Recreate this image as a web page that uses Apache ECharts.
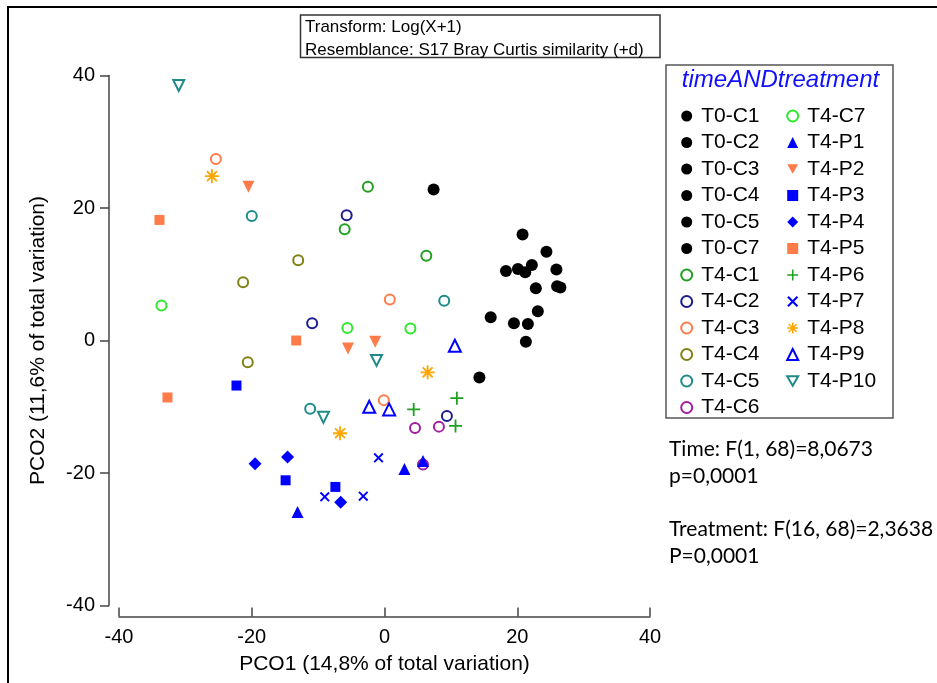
<!DOCTYPE html>
<html>
<head>
<meta charset="utf-8">
<script src="https://cdn.jsdelivr.net/npm/echarts@6/dist/echarts.min.js"></script>
<style>html,body{margin:0;padding:0;background:#fff}#c{width:937px;height:683px}</style>
</head>
<body>
<div id="c"></div>
<script>
// ---- data ----
const groupNames = ['T0-C1','T0-C2','T0-C3','T0-C4','T0-C5','T0-C7','T4-C1','T4-C2','T4-C3','T4-C4','T4-C5','T4-C6',
                    'T4-C7','T4-P1','T4-P2','T4-P3','T4-P4','T4-P5','T4-P6','T4-P7','T4-P8','T4-P9','T4-P10'];
const T0_C1 = [[7.4,22.8],[22.8,7.9],[14.3,-5.6]];
const T0_C2 = [[20.8,16.0],[26.0,8.2],[16.0,3.5]];
const T0_C3 = [[24.4,13.4],[26.5,8.0],[19.5,2.6]];
const T0_C4 = [[18.3,10.5],[23.1,4.4],[21.6,2.5]];
const T0_C5 = [[20.1,10.8],[22.2,11.4],[21.3,-0.2]];
const T0_C7 = [[21.2,10.3],[25.9,10.7]];
const T4_C1 = [[-6.0,16.8],[-2.5,23.2],[6.3,12.8]];
const T4_C2 = [[-5.7,18.9],[-10.9,2.6],[9.4,-11.4]];
const T4_C3 = [[-25.4,27.4],[0.8,6.2],[-0.1,-9.0]];
const T4_C4 = [[-13.0,12.1],[-21.3,8.8],[-20.6,-3.3]];
const T4_C5 = [[-20.0,18.8],[9.0,6.0],[-11.2,-10.3]];
const T4_C6 = [[4.6,-13.2],[8.2,-13.0],[5.8,-18.7]];
const T4_C7 = [[-33.6,5.3],[-5.6,1.9],[3.9,1.8]];
const T4_P1 = [[-13.1,-25.9],[3.0,-19.4],[5.8,-18.2]];
const T4_P2 = [[-20.5,23.2],[-5.5,-1.2],[-1.4,-0.2]];
const T4_P3 = [[-22.3,-6.8],[-14.9,-21.1],[-7.4,-22.1]];
const T4_P4 = [[-14.6,-17.6],[-19.5,-18.6],[-6.6,-24.4]];
const T4_P5 = [[-33.9,18.2],[-13.3,0.0],[-32.7,-8.6]];
const T4_P6 = [[10.9,-8.7],[4.4,-10.4],[10.7,-12.9]];
const T4_P7 = [[-9.0,-23.6],[-0.9,-17.7],[-3.2,-23.5]];
const T4_P8 = [[-26.0,24.8],[-6.7,-14.0],[6.5,-4.8]];
const T4_P9 = [[10.6,-0.8],[-2.3,-10.0],[0.7,-10.4]];
const T4_P10 = [[-31.0,38.5],[-9.2,-11.6],[-1.2,-3.0]];
const groupData = [T0_C1,T0_C2,T0_C3,T0_C4,T0_C5,T0_C7,T4_C1,T4_C2,T4_C3,T4_C4,T4_C5,T4_C6,
                   T4_C7,T4_P1,T4_P2,T4_P3,T4_P4,T4_P5,T4_P6,T4_P7,T4_P8,T4_P9,T4_P10];
const axisTicks = [-40,-20,0,20,40];
const xName = 'PCO1 (14,8% of total variation)';
const yName = 'PCO2 (11,6% of total variation)';
const infoLines = ['Transform: Log(X+1)','Resemblance: S17 Bray Curtis similarity (+d)'];
const statLines = ['Time: F(1, 68)=8,0673','p=0,0001','','Treatment: F(16, 68)=2,3638','P=0,0001'];
const legendTitle = 'timeANDtreatment';

// ---- styles ----
function barsPath(angles, w){
  const L=10;let p='';
  angles.forEach(a=>{
    const r=a*Math.PI/180,c=Math.cos(r),s=Math.sin(r);
    const pts=[[-L,-w],[L,-w],[L,w],[-L,w]].map(([x,y])=>[(x*c-y*s).toFixed(3),(x*s+y*c).toFixed(3)]);
    p+='M'+pts[0].join(' ')+'L'+pts[1].join(' ')+'L'+pts[2].join(' ')+'L'+pts[3].join(' ')+'Z';
  });
  return 'path://'+p;
}
const plusPath = barsPath([0,90],1.4);
const crossPath = barsPath([45,135],1.6);
const starPath = barsPath([0,45,90,135],1.3);
const downTri = 'path://M-10,-8.66L10,-8.66L0,8.66Z';
const BLK='#000000', GRN='#1fa01f', NAVY='#1c1c8f', CORAL='#ff7b4a', OLIVE='#808012', TEAL='#1f8a8a',
      PURP='#a01ea0', LIME='#2ee82e', BLUE='#0000ff', ORNG='#ffa500';
const styles = [
  {c:BLK,s:'circle',z:12},{c:BLK,s:'circle',z:12},{c:BLK,s:'circle',z:12},{c:BLK,s:'circle',z:12},{c:BLK,s:'circle',z:12},{c:BLK,s:'circle',z:12},
  {c:GRN,s:'emptyCircle',z:10},{c:NAVY,s:'emptyCircle',z:10},{c:CORAL,s:'emptyCircle',z:10},{c:OLIVE,s:'emptyCircle',z:10},
  {c:TEAL,s:'emptyCircle',z:10},{c:PURP,s:'emptyCircle',z:10},{c:LIME,s:'emptyCircle',z:10},
  {c:BLUE,s:'triangle',z:12},{c:CORAL,s:downTri,z:12},{c:BLUE,s:'rect',z:10},{c:BLUE,s:'diamond',z:13},
  {c:CORAL,s:'rect',z:10},{c:GRN,s:plusPath,z:13},{c:BLUE,s:crossPath,z:10},{c:ORNG,s:starPath,z:14},
  {c:BLUE,s:'emptyTriangle',z:12},{c:TEAL,s:downTri,z:11,hollow:true}
];
const FONT='"Liberation Sans", Arial, sans-serif';

const series = groupNames.map((n,i)=>{
  const st=styles[i];
  const isEmpty = st.s.indexOf('empty')===0;
  return {
    name:n, type:'scatter', data:groupData[i],
    symbol:st.s, symbolSize:st.z,
    itemStyle: st.hollow ? {color:'#fff', borderColor:st.c, borderWidth:2, opacity:1}
                         : {color:st.c, borderColor:st.c, borderWidth:isEmpty?2:0, opacity:1},
    emphasis:{disabled:true}
  };
});

const legendBase = {orient:'vertical', itemWidth:11, itemHeight:11, itemGap:5.5, selectedMode:false,
  textStyle:{fontFamily:FONT,fontSize:21,color:'#000',padding:[0,0,0,4]}};

const chart = echarts.init(document.getElementById('c'), null, {renderer:'canvas'});
chart.setOption({
  backgroundColor:'#fff',
  animation:false,
  grid:{left:119, top:75.5, width:531, height:530},
  xAxis:{type:'value', min:axisTicks[0], max:axisTicks[axisTicks.length-1], interval:20, offset:11,
    splitLine:{show:false},
    axisLine:{show:true,onZero:false,lineStyle:{color:'#444',width:1.5}},
    axisTick:{show:true,inside:true,length:9,lineStyle:{color:'#444',width:1.5}},
    axisLabel:{fontFamily:FONT,fontSize:20,color:'#000',margin:11},
    name:xName, nameLocation:'middle', nameGap:37, nameTextStyle:{fontFamily:FONT,fontSize:21,color:'#000'}},
  yAxis:{type:'value', min:axisTicks[0], max:axisTicks[axisTicks.length-1], interval:20, offset:10,
    splitLine:{show:false},
    axisLine:{show:true,onZero:false,lineStyle:{color:'#444',width:1.5}},
    axisTick:{show:true,inside:false,length:9,lineStyle:{color:'#444',width:1.5}},
    axisLabel:{fontFamily:FONT,fontSize:20,color:'#000',margin:14},
    name:yName, nameLocation:'middle', nameGap:60, nameTextStyle:{fontFamily:FONT,fontSize:21,color:'#000'}},
  legend:[
    Object.assign({}, legendBase, {data:groupNames.slice(0,12), left:675.2, top:100.5}),
    Object.assign({}, legendBase, {data:groupNames.slice(12), left:781.2, top:100.5})
  ],
  graphic:[
    {type:'rect', silent:true, shape:{x:8,y:7,width:960,height:720}, style:{fill:'none',stroke:'#000',lineWidth:2}},
    {type:'rect', silent:true, shape:{x:300.5,y:15,width:359.5,height:42.5}, style:{fill:'#fff',stroke:'#333',lineWidth:1.5}},
    {type:'text', silent:true, left:305, top:16, style:{text:infoLines.join('\n'),fontFamily:FONT,fontSize:17,lineHeight:23,fill:'#000'}},
    {type:'rect', silent:true, shape:{x:666,y:65,width:227,height:353}, style:{fill:'none',stroke:'#555',lineWidth:1.5}},
    {type:'text', silent:true, x:780.5, y:80.7, style:{text:legendTitle,fontFamily:FONT,fontSize:24,fontStyle:'italic',fill:'#1010ff',align:'center',verticalAlign:'middle'}},
    {type:'text', silent:true, left:669, top:436, style:{text:statLines.join('\n'),fontFamily:'Lato, "Open Sans", sans-serif',fontSize:21,lineHeight:26.7,fill:'#000'}}
  ],
  series:series
});
</script>
</body>
</html>
